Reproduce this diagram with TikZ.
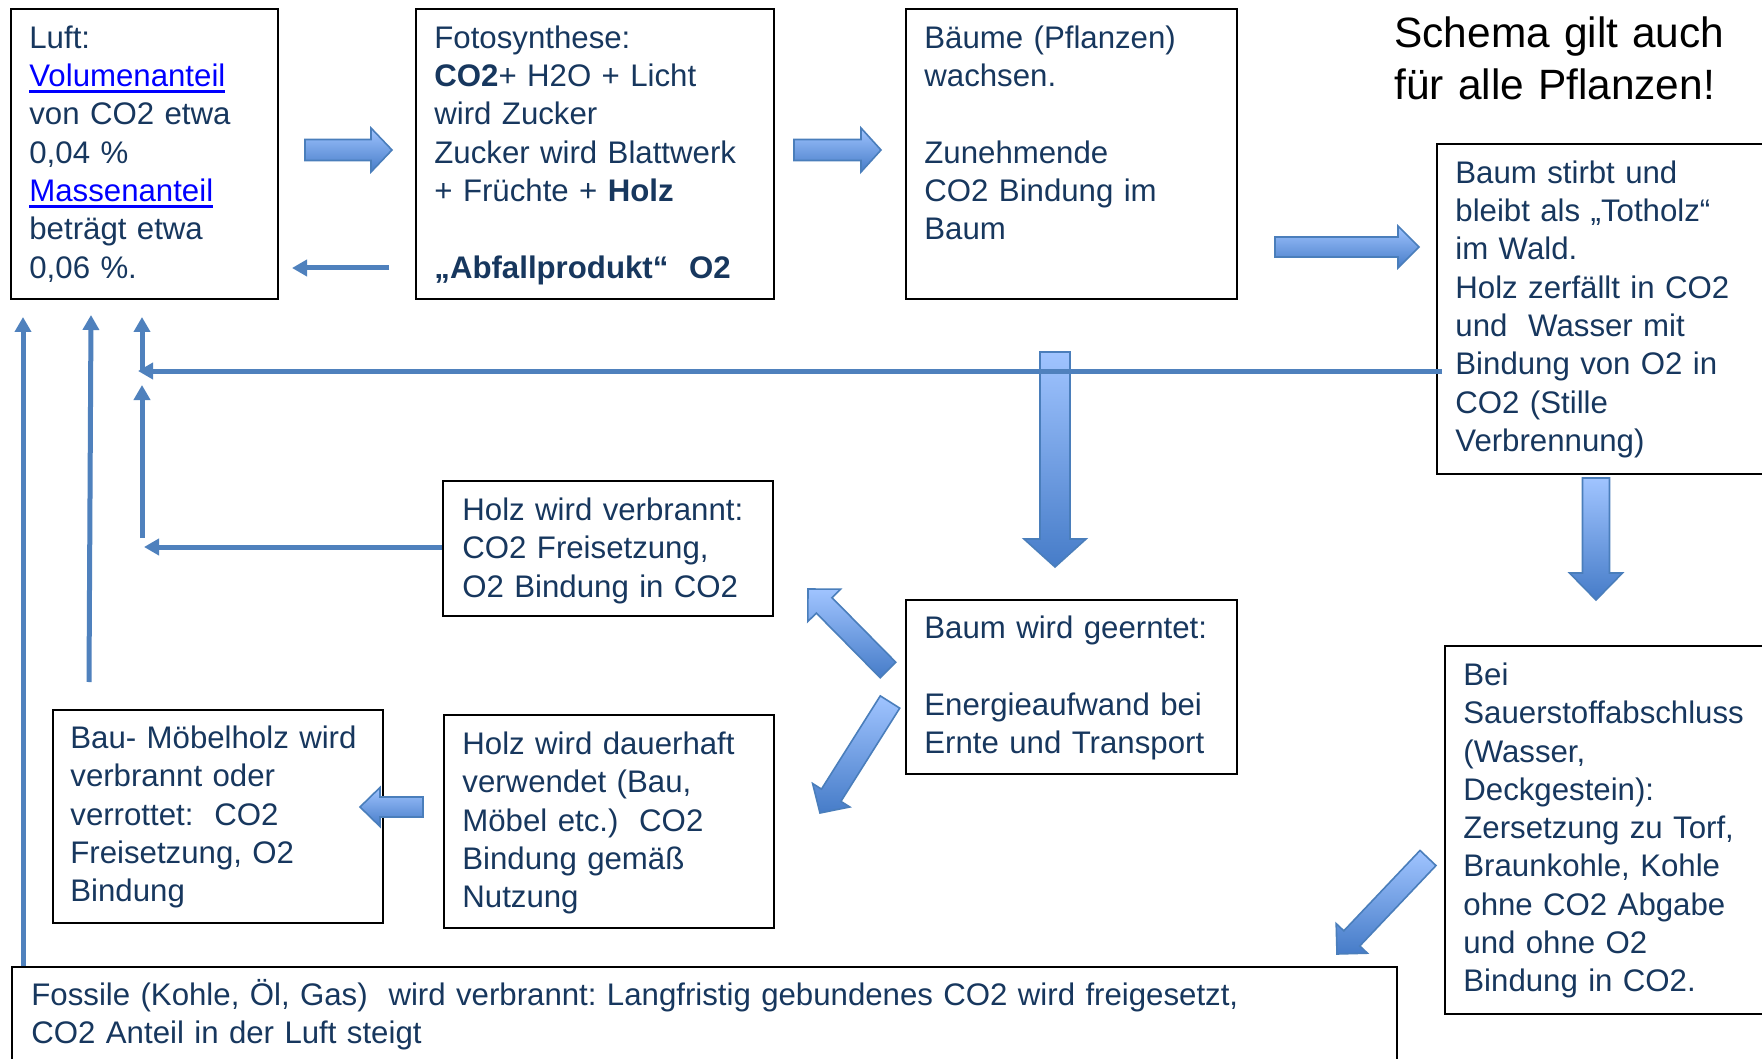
\documentclass[tikz,border=0pt]{standalone}
\usepackage{fontspec}
\setmainfont{Liberation Sans}
\frenchspacing
\usetikzlibrary{arrows.meta,calc}
\definecolor{navy}{RGB}{23,55,94}
\definecolor{linkblue}{RGB}{0,0,255}
\definecolor{connblue}{RGB}{79,129,189}
\definecolor{blight}{RGB}{160,196,255}
\definecolor{bdark}{RGB}{70,124,200}
\definecolor{bedge}{RGB}{74,126,187}
\newcommand{\bodyfont}{\fontsize{15.6pt}{19.15pt}\selectfont\frenchspacing}
\newcommand{\titlefont}{\fontsize{21.2pt}{26pt}\selectfont}
\newcommand{\fl}{\rule{0pt}{15pt}}
\newcommand{\hlink}[1]{\leavevmode{\color{linkblue}\setbox0=\hbox{#1}\rlap{\rule[-3pt]{\wd0}{1.3pt}}\box0}}
\newcommand{\blockarr}[5]{%
  \coordinate (bah) at ($(#2)!#5!(#1)$);
  \shadedraw[barrow] ($(#1)!#3!90:(#2)$) -- ($(bah)!#3!90:(#2)$) -- ($(bah)!#4!90:(#2)$) -- (#2) -- ($(bah)!#4!-90:(#2)$) -- ($(bah)!#3!-90:(#2)$) -- ($(#1)!#3!-90:(#2)$) -- cycle;}
\begin{document}
\begin{tikzpicture}[x=0.5pt,y=-0.5pt,
  box/.style={draw=black, line width=1.2pt, rectangle, inner sep=0pt, anchor=north west, fill=white},
  txt/.style={anchor=north west, inner sep=0pt, align=left, text width=#1, font=\bodyfont, text=navy},
  txt/.default=170pt,
  thinarrow/.style={draw=connblue, line width=2.5pt, -{Triangle[length=7.5pt,width=8pt]}},
  barrow/.style={top color=blight, bottom color=bdark, draw=bedge, line width=0.8pt, line join=miter}]
\useasboundingbox (0,0) rectangle (1762,1059);
\clip (0,0) rectangle (1762,1059);
\fill[white] (0,0) rectangle (1762,1059);

% boxes
\node[box, minimum width=133.5pt, minimum height=145pt] (luft) at (10,8) {};
\node[box, minimum width=179pt, minimum height=145pt] (foto) at (415,8) {};
\node[box, minimum width=165.5pt, minimum height=145pt] (baeume) at (905,8) {};
\node[box, minimum width=170pt, minimum height=165pt] (stirbt) at (1436,143) {};
\node[box, minimum width=165pt, minimum height=67.5pt] (verbr) at (442,480) {};
\node[box, minimum width=165.5pt, minimum height=87pt] (ernte) at (905,599) {};
\node[box, minimum width=165pt, minimum height=184pt] (sauer) at (1444,645) {};
\node[box, minimum width=165pt, minimum height=106.5pt] (moebel) at (52,709) {};
\node[box, minimum width=165pt, minimum height=106.5pt] (dauer) at (443,714) {};
\node[box, minimum width=692.5pt, minimum height=60pt] (fossil) at (11,966) {};

% texts
\node[txt] (luftT) at (29,18) {\fl Luft:\\ \hlink{Volumenanteil}\\ von CO2 etwa\\ 0,04 \%\\ \hlink{Massenanteil}\\ beträgt etwa\\ 0,06 \%.};
\node[txt] (fotoT) at (434,18) {\fl Fotosynthese:\\ \textbf{CO2}+ H2O + Licht\\ wird Zucker\\ Zucker wird Blattwerk\\ + Früchte + \textbf{Holz}\\ \mbox{}\\ \textbf{„Abfallprodukt“\ \ O2}};
\node[txt] (baeumeT) at (924,18) {\fl Bäume (Pflanzen)\\ wachsen.\\ \mbox{}\\ Zunehmende\\ CO2 Bindung im\\ Baum};
\node[txt] (stirbtT) at (1455,153) {\fl Baum stirbt und\\ bleibt als „Totholz“\\ im Wald.\\ Holz zerfällt in CO2\\ und\ \ Wasser mit\\ Bindung von O2 in\\ CO2 (Stille\\ Verbrennung)};
\node[txt] (verbrT) at (462,490) {\fl Holz wird verbrannt:\\ CO2 Freisetzung,\\ O2 Bindung in CO2};
\node[txt] (ernteT) at (924,608) {\fl Baum wird geerntet:\\ \mbox{}\\ Energieaufwand bei\\ Ernte und Transport};
\node[txt] (sauerT) at (1463,655) {\fl Bei\\ Sauerstoffabschluss\\ (Wasser,\\ Deckgestein):\\ Zersetzung zu Torf,\\ Braunkohle, Kohle\\ ohne CO2 Abgabe\\ und ohne O2\\ Bindung in CO2.};
\node[txt] (moebelT) at (70,718) {\fl Bau- Möbelholz wird\\ verbrannt oder\\ verrottet:\ \ CO2\\ Freisetzung, O2\\ Bindung};
\node[txt] (dauerT) at (462,724) {\fl Holz wird dauerhaft\\ verwendet (Bau,\\ Möbel etc.)\ \ CO2\\ Bindung gemäß\\ Nutzung};
\node[txt=700pt] (fossilT) at (31,975) {\fl Fossile (Kohle, Öl, Gas)\ \ wird verbrannt: Langfristig gebundenes CO2 wird freigesetzt,\\ CO2 Anteil in der Luft steigt};
\node[anchor=north west, inner sep=0pt, align=left, text width=220pt, font=\titlefont, text=black] (title) at (1394,7) {\rule{0pt}{20pt}Schema gilt auch\\ für alle Pflanzen!};

% block arrows
\coordinate (a1t) at (305,150); \coordinate (a1h) at (392,150);
\coordinate (a2t) at (794,150); \coordinate (a2h) at (881,150);
\coordinate (a3t) at (1275,247); \coordinate (a3h) at (1419,247);
\coordinate (a4t) at (1055,352); \coordinate (a4h) at (1055,567);
\coordinate (a5t) at (1596,478); \coordinate (a5h) at (1596,600);
\coordinate (a6t) at (888,670); \coordinate (a6h) at (808,589);
\coordinate (a7t) at (890,702); \coordinate (a7h) at (820,813);
\coordinate (a8t) at (423,807); \coordinate (a8h) at (360,807);
\coordinate (a9t) at (1428,858); \coordinate (a9h) at (1337,954);
\blockarr{a1t}{a1h}{5.25pt}{11pt}{10.5pt}
\blockarr{a2t}{a2h}{5.25pt}{11pt}{10pt}
\blockarr{a3t}{a3h}{5pt}{10.5pt}{10.5pt}
\blockarr{a4t}{a4h}{7.5pt}{15.5pt}{14pt}
\blockarr{a5t}{a5h}{6.75pt}{13.25pt}{13.5pt}
\blockarr{a6t}{a6h}{5.5pt}{11.5pt}{11.5pt}
\blockarr{a7t}{a7h}{5.75pt}{11pt}{10.5pt}
\blockarr{a8t}{a8h}{5pt}{9.75pt}{10pt}
\blockarr{a9t}{a9h}{5.5pt}{10.75pt}{10.75pt}

% thin arrows
\coordinate (t1s) at (389,268); \coordinate (t1e) at (292,268);
\coordinate (t2s) at (1442,371); \coordinate (t2e) at (138,371);
\coordinate (t3s) at (142,371); \coordinate (t3e) at (142,317);
\coordinate (t4s) at (442,547); \coordinate (t4e) at (144,547);
\coordinate (t5s) at (142,538); \coordinate (t5e) at (142,385);
\coordinate (t6s) at (89,682); \coordinate (t6e) at (91,315);
\coordinate (t7s) at (23,966); \coordinate (t7e) at (23,317);
\draw[thinarrow] (t1s) -- (t1e);
\draw[thinarrow] (t2s) -- (t2e);
\draw[thinarrow] (t3s) -- (t3e);
\draw[thinarrow] (t4s) -- (t4e);
\draw[thinarrow] (t5s) -- (t5e);
\draw[thinarrow] (t6s) -- (t6e);
\draw[thinarrow] (t7s) -- (t7e);
\end{tikzpicture}
\end{document}
